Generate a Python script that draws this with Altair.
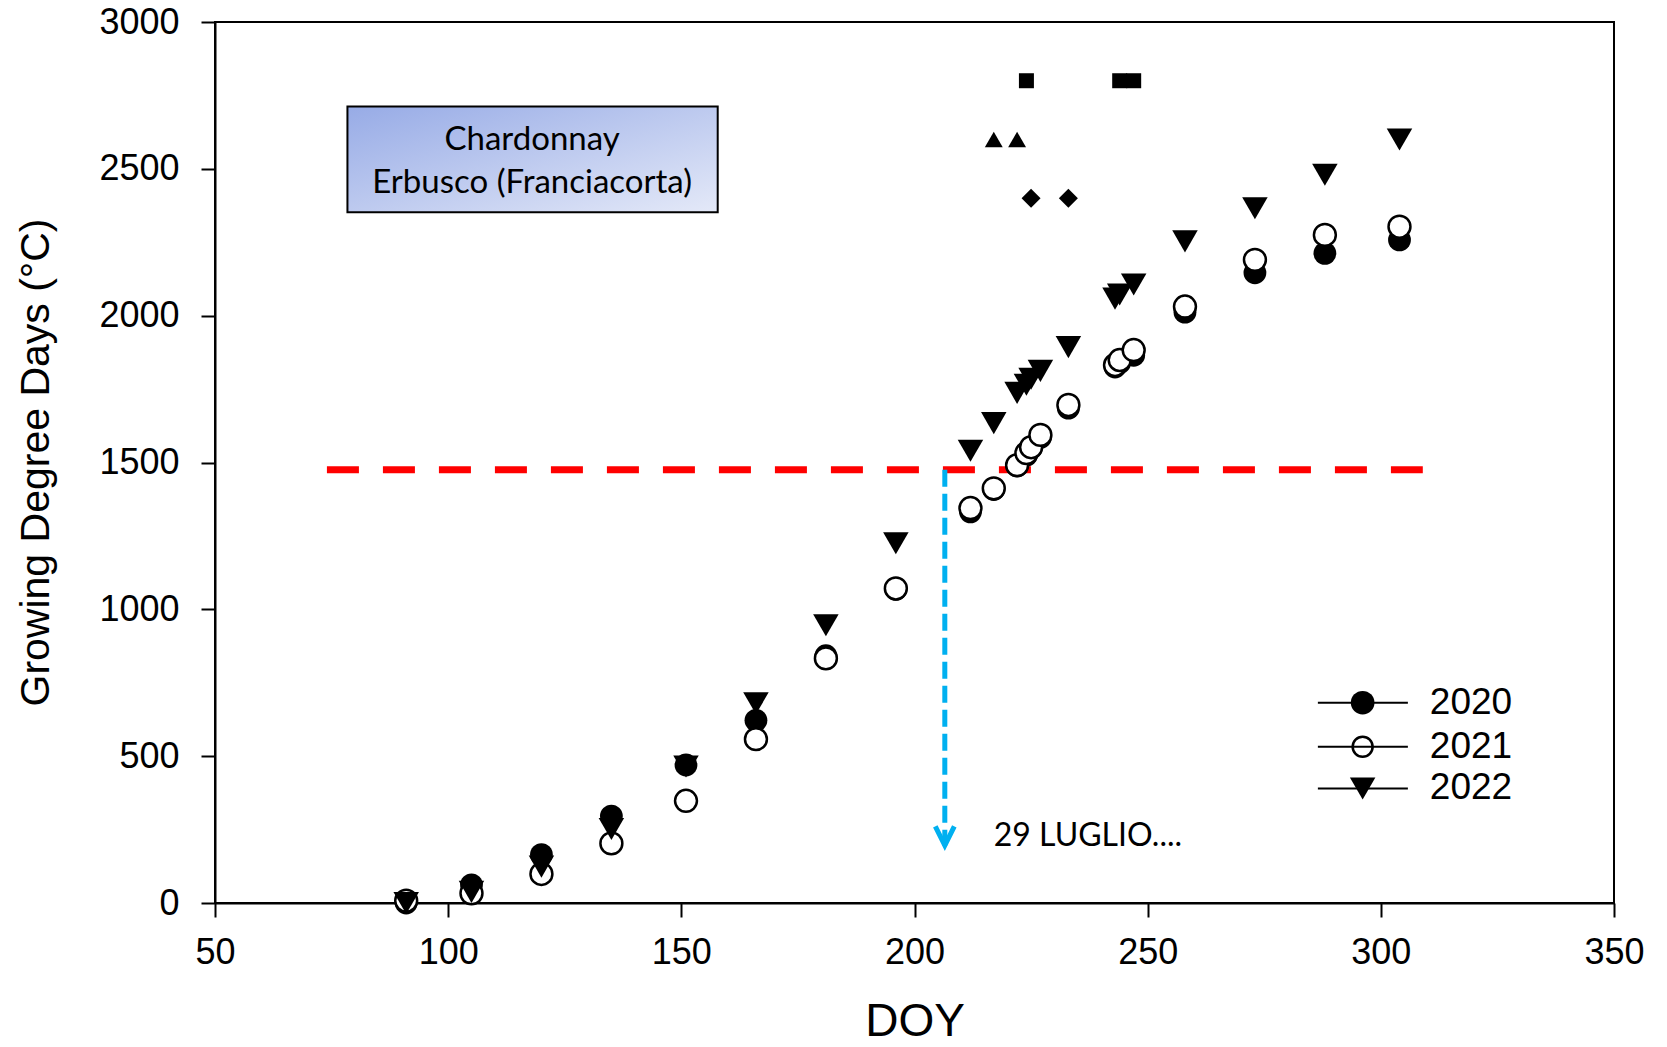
import altair as alt
import pandas as pd

# ---------------- data ----------------
doy_2020 = [91, 105, 120, 135, 151, 166, 181, 196, 212, 217, 222, 224, 225, 227, 233, 243, 244, 247, 258, 273, 288, 304]
gdd_2020 = [0, 62, 165, 296, 470, 622, 842, 1068, 1332, 1408, 1488, 1525, 1548, 1585, 1685, 1825, 1840, 1865, 2012, 2146, 2212, 2258]

doy_2021 = [91, 105, 120, 135, 151, 166, 181, 196, 212, 217, 222, 224, 225, 227, 233, 243, 244, 247, 258, 273, 288, 304]
gdd_2021 = [8, 33, 99, 203, 348, 558, 833, 1071, 1345, 1412, 1491, 1532, 1552, 1594, 1696, 1832, 1849, 1883, 2031, 2190, 2275, 2303]

doy_2022 = [91, 105, 120, 135, 151, 166, 181, 196, 212, 217, 222, 224, 225, 227, 233, 243, 244, 247, 258, 273, 288, 304]
gdd_2022 = [0, 38, 124, 252, 465, 680, 946, 1225, 1540, 1634, 1737, 1765, 1785, 1812, 1893, 2058, 2072, 2106, 2253, 2366, 2480, 2600]

# phenology reference markers
square_doy = [224, 244, 247]
square_gdd = [2800, 2800, 2800]
tri_up_doy = [217, 222]
tri_up_gdd = [2600, 2600]
diamond_doy = [225, 233]
diamond_gdd = [2400, 2400]

# threshold line and arrow
threshold_gdd = [1475]
threshold_doy = [74, 309]
arrow_doy = [206.5]
arrow_gdd = [1475, 196]

annotation_text = ["29 LUGLIO...."]
annotation_doy = [217]
annotation_gdd = [194]

box_lines = ["Chardonnay", "Erbusco (Franciacorta)"]
box_doy = [78.4, 157.8]
box_gdd = [2352, 2712]
box_text_doy = [118, 118]
box_text_gdd = [2565, 2418]

legend_years = ["2020", "2021", "2022"]
legend_gdd = [682, 532, 390]
legend_line_doy = [286.5, 305.8]
legend_symbol_doy = [296.1]
legend_text_doy = [310.5]

x_ticks = [50, 100, 150, 200, 250, 300, 350]
y_ticks = [0, 500, 1000, 1500, 2000, 2500, 3000]

# ---------------- chart ----------------
AX_FONT = "Liberation Sans"
TXT_FONT = "Lato"
BLUE = "#00B0F0"

xs = alt.Scale(domain=[50, 350], nice=False, zero=False)
ys = alt.Scale(domain=[0, 3000], nice=False, zero=False)

x_axis = alt.Axis(
    values=x_ticks, format="d", title="DOY", grid=False, tickSize=14, tickWidth=2, tickColor="black",
    domainColor="black", domainWidth=2, labelFont=AX_FONT, labelFontSize=36, labelColor="black",
    labelPadding=18, titleFont=AX_FONT, titleFontSize=46, titleFontWeight="normal", titleColor="black",
    titleBaseline="alphabetic", titleY=132, labelFlush=False,
)
y_axis = alt.Axis(
    values=y_ticks, format="d", title="Growing Degree Days (°C)", grid=False, tickSize=14, tickWidth=2,
    tickColor="black", domainColor="black", domainWidth=2, labelFont=AX_FONT, labelFontSize=36,
    labelColor="black", labelPadding=22, titleFont=AX_FONT, titleFontSize=41, titleFontWeight="normal",
    titleColor="black", titleAngle=270, titleBaseline="alphabetic", titleAlign="center",
    titleX=-167, titleY=440, labelFlush=False,
)


def X(field="doy"):
    return alt.X(f"{field}:Q", scale=xs, axis=x_axis, title="DOY")


def Y(field="gdd"):
    return alt.Y(f"{field}:Q", scale=ys, axis=y_axis, title="Growing Degree Days (°C)")


df20 = pd.DataFrame({"doy": doy_2020, "gdd": gdd_2020})
df21 = pd.DataFrame({"doy": doy_2021, "gdd": gdd_2021})
df22 = pd.DataFrame({"doy": doy_2022, "gdd": gdd_2022})

box_df = pd.DataFrame({"doy": [box_doy[0]], "doy2": [box_doy[1]], "gdd": [box_gdd[0]], "gdd2": [box_gdd[1]]})
gradient = alt.LinearGradient(
    gradient="linear",
    stops=[alt.GradientStop(color="#97ABE6", offset=0), alt.GradientStop(color="#E4E9F8", offset=1)],
    x1=0, y1=0, x2=1, y2=1,
)
box = alt.Chart(box_df).mark_rect(fill=gradient, stroke="black", strokeWidth=2).encode(
    x=X(), x2="doy2:Q", y=Y(), y2="gdd2:Q"
)
box_text = alt.Chart(pd.DataFrame({"doy": box_text_doy, "gdd": box_text_gdd, "t": box_lines})).mark_text(
    font=TXT_FONT, fontSize=33, align="center", baseline="alphabetic", color="black"
).encode(x=X(), y=Y(), text="t:N")

red_df = pd.DataFrame({"doy": [threshold_doy[0]], "doy2": [threshold_doy[1]], "gdd": threshold_gdd})
red_line = alt.Chart(red_df).mark_rule(color="#FF0000", strokeWidth=7, strokeDash=[32, 24]).encode(
    x=X(), x2="doy2:Q", y=Y()
)

blue_df = pd.DataFrame({"doy": arrow_doy, "gdd": [arrow_gdd[0]], "gdd2": [arrow_gdd[1]]})
blue_line = alt.Chart(blue_df).mark_rule(color=BLUE, strokeWidth=5, strokeDash=[17, 7]).encode(
    x=X(), y=Y(), y2="gdd2:Q"
)
head_df = pd.DataFrame({"doy": arrow_doy, "gdd": [arrow_gdd[1]]})
arrow_head = alt.Chart(head_df).mark_point(
    shape="M -0.5 -1 L 0 0 L 0.5 -1", filled=False, stroke=BLUE, strokeWidth=5, size=1444, opacity=1
).encode(x=X(), y=Y())

ann = alt.Chart(pd.DataFrame({"doy": annotation_doy, "gdd": annotation_gdd, "t": annotation_text})).mark_text(
    font=TXT_FONT, fontSize=32, align="left", baseline="alphabetic", color="black"
).encode(x=X(), y=Y(), text="t:N")

p20 = alt.Chart(df20).mark_point(shape="circle", filled=True, color="black", size=520, opacity=1).encode(x=X(), y=Y())
p21 = alt.Chart(df21).mark_point(
    shape="circle", filled=True, fill="white", stroke="black", strokeWidth=2.5, size=480, opacity=1
).encode(x=X(), y=Y())
p22 = alt.Chart(df22).mark_point(shape="triangle-down", filled=True, color="black", size=650, opacity=1).encode(
    x=X(), y=Y()
)

sq = alt.Chart(pd.DataFrame({"doy": square_doy, "gdd": square_gdd})).mark_point(
    shape="square", filled=True, color="black", size=225, opacity=1
).encode(x=X(), y=Y())
tu = alt.Chart(pd.DataFrame({"doy": tri_up_doy, "gdd": tri_up_gdd})).mark_point(
    shape="triangle-up", filled=True, color="black", size=320, opacity=1
).encode(x=X(), y=Y())
dm = alt.Chart(pd.DataFrame({"doy": diamond_doy, "gdd": diamond_gdd})).mark_point(
    shape="diamond", filled=True, color="black", size=360, opacity=1
).encode(x=X(), y=Y())

# manual SigmaPlot-style legend
leg_lines = alt.Chart(pd.DataFrame({
    "doy": [legend_line_doy[0]] * 3, "doy2": [legend_line_doy[1]] * 3, "gdd": legend_gdd
})).mark_rule(color="black", strokeWidth=2).encode(x=X(), x2="doy2:Q", y=Y())
leg_sym_df = pd.DataFrame({"doy": legend_symbol_doy * 3, "gdd": legend_gdd, "year": legend_years})
leg_s20 = alt.Chart(leg_sym_df.iloc[[0]]).mark_point(shape="circle", filled=True, color="black", size=560, opacity=1).encode(x=X(), y=Y())
leg_s21 = alt.Chart(leg_sym_df.iloc[[1]]).mark_point(shape="circle", filled=False, stroke="black", strokeWidth=2.5, size=400, opacity=1).encode(x=X(), y=Y())
leg_s22 = alt.Chart(leg_sym_df.iloc[[2]]).mark_point(shape="triangle-down", filled=True, color="black", size=650, opacity=1).encode(x=X(), y=Y())
leg_text = alt.Chart(pd.DataFrame({"doy": legend_text_doy * 3, "gdd": legend_gdd, "t": legend_years})).mark_text(
    font=AX_FONT, fontSize=37, align="left", baseline="middle", color="black"
).encode(x=X(), y=Y(), text="t:N")

chart = alt.layer(
    box, box_text, red_line, blue_line, arrow_head, ann,
    p20, p21, p22, sq, tu, dm,
    leg_lines, leg_s20, leg_s21, leg_s22, leg_text,
).properties(
    width=1399, height=881,
    autosize=alt.AutoSizeParams(type="none"),
    padding={"left": 215, "top": 22, "right": 53, "bottom": 144},
    background="white",
).configure_view(stroke="black", strokeWidth=2)

chart.save("out.html", embed_options={"renderer": "svg", "actions": False})
